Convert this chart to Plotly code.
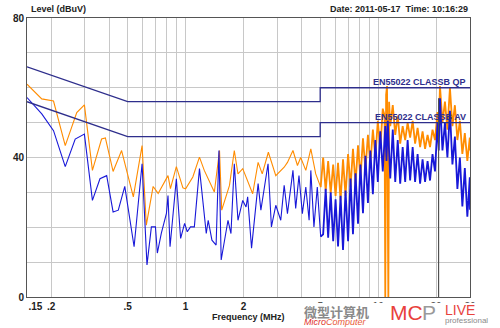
import math
import plotly.graph_objects as go

# ---------------- data ----------------
# Peak (orange) detector, low-frequency part
peak_freq_low = [0.15, 0.179, 0.206, 0.237, 0.272, 0.298, 0.328, 0.366, 0.383, 0.42, 0.465, 0.535,
                 0.594, 0.625, 0.678, 0.72, 0.81, 0.834, 0.895, 0.968, 1.0, 1.09, 1.18, 1.25, 1.41,
                 1.50, 1.54, 1.69, 1.79, 1.87, 1.98, 2.23, 2.38, 2.5, 2.69, 2.94, 3.25, 3.38, 3.61,
                 3.81, 3.96, 4.21, 4.47, 4.74, 5.03]
peak_level_low = [61, 56.8, 56.2, 43.4, 52.9, 55.1, 36.3, 45.3, 45.6, 36, 42, 28.7,
                  43.4, 20.6, 31.7, 29.7, 34.8, 31.1, 37.4, 31.3, 31, 34.4, 40.1, 36.3, 30.1,
                  42, 24.9, 32, 42, 35.3, 36.8, 29.6, 38.6, 35.3, 41.5, 34.8, 37.2, 38.6, 42,
                  37.7, 40, 36.3, 42.5, 35.3, 31.5]
# Peak (orange) detector, dense high-frequency part
peak_freq_hf = [5.03, 5.18, 5.34, 5.50, 5.67, 5.84, 6.01, 6.19, 6.38, 6.57, 6.77, 6.98, 7.19, 7.40,
                7.63, 7.86, 8.09, 8.34, 8.59, 8.85, 9.11, 9.39, 9.67, 9.96, 10.26, 10.57, 10.80,
                10.89, 11.0, 11.12, 11.30, 11.40, 11.56, 11.91, 12.27, 12.64, 13.02, 13.41, 13.82,
                14.23, 14.66, 15.11, 15.56, 16.03, 16.52, 17.01, 17.53, 18.06, 18.60, 19.16, 19.74,
                20.34, 20.64, 20.95, 21.58, 22.23, 22.90, 23.60, 24.31, 25.04, 25.80, 26.58, 27.38,
                28.20, 29.06, 29.93, 30.0]
peak_level_hf = [31.5, 40, 30.5, 39, 29.7, 38, 29, 38.5, 27.7, 39.5, 29, 41, 31.5, 42.5,
                 32.5, 43.5, 34, 45.5, 36.5, 46.5, 38, 48, 40, 50.5, 42.5, 54, 52,
                 0, 58, 60.5, 0, 56, 49, 55, 46.5, 52, 44, 49, 45,
                 50, 45.7, 50.5, 44, 48.5, 43, 47.5, 42.5, 46.5, 43, 48, 45,
                 53, 48, 60.5, 50, 56, 48, 60, 49, 55, 45, 50.5, 41,
                 47, 39, 45.7, 42]

# Average (blue) detector, low-frequency part
avg_freq_low = [0.15, 0.179, 0.206, 0.237, 0.267, 0.298, 0.328, 0.359, 0.389, 0.42, 0.447, 0.483,
                0.54, 0.594, 0.63, 0.664, 0.697, 0.713, 0.748, 0.795, 0.81, 0.83, 0.895, 0.942,
                0.988, 1.02, 1.06, 1.11, 1.18, 1.23, 1.28, 1.31, 1.37, 1.44, 1.49, 1.53, 1.59,
                1.66, 1.72, 1.79, 1.87, 1.98, 2.06, 2.1, 2.2, 2.27, 2.38, 2.46, 2.68, 2.79, 2.94,
                3.12, 3.25, 3.38, 3.61, 3.73, 3.88, 4.04, 4.21, 4.38, 4.47, 4.64, 4.83, 5.03]
avg_level_low = [57.2, 52.5, 47.7, 37.4, 45.3, 46.7, 27.7, 33.9, 34.8, 24.4, 24.9, 31.7,
                 14.4, 38.2, 9.2, 20.1, 20.1, 12.6, 18.3, 24, 29.1, 14.4, 33.9, 16.8,
                 21.1, 18.7, 20.1, 20.1, 36.8, 26.3, 18.2, 22, 16.3, 14.9, 42, 10.6, 16.3,
                 22, 18.2, 38.2, 22, 27.7, 25.8, 28.7, 14, 22, 32.5, 24.9, 38.2, 20.1, 26.3,
                 22, 32, 23.9, 36.3, 25.4, 34.8, 23.9, 31.5, 22, 36.3, 20.1, 31.5, 17.3]
# Average (blue) detector, dense high-frequency part
avg_freq_hf = [5.03, 5.18, 5.34, 5.50, 5.67, 5.84, 6.01, 6.19, 6.38, 6.57, 6.77, 6.98, 7.19, 7.40,
               7.63, 7.86, 8.09, 8.34, 8.59, 8.85, 9.11, 9.39, 9.67, 9.96, 10.26, 10.57, 10.89,
               11.05, 11.22, 11.56, 11.91, 12.27, 12.64, 13.02, 13.41, 13.82, 14.23, 14.66, 15.11,
               15.56, 16.03, 16.52, 17.01, 17.53, 18.06, 18.60, 19.16, 19.74, 20.34, 20.64, 20.95,
               21.58, 22.23, 22.90, 23.60, 24.31, 25.04, 25.80, 26.58, 27.38, 28.20, 29.06, 29.93,
               30.0]
avg_level_hf = [17.3, 18, 31, 17, 30, 16, 28, 14.5, 29, 13.5, 30.5, 16, 34, 18,
                35.5, 21, 38, 24, 40.5, 27, 42, 29.5, 45, 33, 47.5, 36, 49,
                39, 50.5, 34, 48, 33, 45, 32.5, 43, 33, 45, 33.4, 43,
                33, 41, 32.5, 39.5, 33, 39, 33.4, 41, 36, 50, 42, 57,
                42, 50, 40, 53.4, 38, 46, 31, 40, 26, 37, 23, 34.3,
                25]

# EN55022 Class B limits
qp_freq = [0.15, 0.5, 5, 5, 30]
qp_level = [66, 56, 56, 60, 60]
av_freq = [0.15, 0.5, 5, 5, 30]
av_level = [56, 46, 46, 50, 50]

marker_freq = 20.6
marker_range = [0, 57]

x_tick_vals = [0.15, 0.2, 0.5, 1, 2, 5, 10, 20, 30]
x_tick_text = ["\u00a0" * 6 + ".15", ".2", ".5", "1", "2", "5", "10", "20", "30"]
x_minor_vals = [0.3, 0.4, 0.6, 0.7, 0.8, 0.9, 3, 4, 6, 7, 8, 9]
y_tick_vals = [0, 40, 80]
y_minor_vals = [10, 20, 30, 50, 60, 70]

qp_label = "EN55022 CLASSB QP"
av_label = "EN55022 CLASSB AV"

# ---------------- figure ----------------
FONT = "Arial, Liberation Sans, sans-serif"
ORANGE = "#ff8c00"
BLUE = "#1818d8"
NAVY = "#2e2e8c"
GRID = "#c8c8c8"

fig = go.Figure()
fig.add_trace(go.Scatter(x=peak_freq_low, y=peak_level_low, mode="lines",
                         line=dict(color=ORANGE, width=1.1), hoverinfo="skip"))
fig.add_trace(go.Scatter(x=peak_freq_hf, y=peak_level_hf, mode="lines",
                         line=dict(color=ORANGE, width=1.8), hoverinfo="skip"))
fig.add_trace(go.Scatter(x=avg_freq_low, y=avg_level_low, mode="lines",
                         line=dict(color=BLUE, width=1.1), hoverinfo="skip"))
fig.add_trace(go.Scatter(x=avg_freq_hf, y=avg_level_hf, mode="lines",
                         line=dict(color=BLUE, width=1.8), hoverinfo="skip"))
fig.add_trace(go.Scatter(x=qp_freq, y=qp_level, mode="lines",
                         line=dict(color=NAVY, width=1.3), hoverinfo="skip"))
fig.add_trace(go.Scatter(x=av_freq, y=av_level, mode="lines",
                         line=dict(color=NAVY, width=1.3), hoverinfo="skip"))
fig.add_trace(go.Scatter(x=[marker_freq, marker_freq], y=marker_range, mode="lines",
                         line=dict(color="#505050", width=1.2), hoverinfo="skip"))

# limit labels (log axis: annotation x is given in log10 units)
fig.add_annotation(x=math.log10(qp_freq[-1]), y=qp_level[-1], xref="x", yref="y", text=qp_label,
                   showarrow=False, xanchor="right", yanchor="bottom", xshift=-2, yshift=-1,
                   font=dict(family=FONT, size=9, color=NAVY, weight="bold"))
fig.add_annotation(x=math.log10(av_freq[-1]), y=av_level[-1], xref="x", yref="y", text=av_label,
                   showarrow=False, xanchor="right", yanchor="bottom", xshift=-2, yshift=-1,
                   font=dict(family=FONT, size=9, color=NAVY, weight="bold"))

fig.add_annotation(x=0, y=1, xref="paper", yref="paper", text="Level (dBuV)",
                   showarrow=False, xanchor="left", yanchor="bottom", xshift=2, yshift=2,
                   font=dict(family=FONT, size=9, color="#222", weight="bold"))
fig.add_annotation(x=1, y=1, xref="paper", yref="paper",
                   text="Date: 2011-05-17\u00a0\u00a0Time: 10:16:29",
                   showarrow=False, xanchor="right", yanchor="bottom", yshift=2,
                   font=dict(family=FONT, size=9, color="#222", weight="bold"))
fig.add_annotation(x=0.5, y=0, xref="paper", yref="paper", text="Frequency (MHz)",
                   showarrow=False, xanchor="center", yanchor="top", yshift=-13,
                   font=dict(family=FONT, size=9, color="#222", weight="bold"))

# watermark (covers part of the tick labels, as in the reference)
fig.add_shape(type="rect", xref="paper", yref="paper", x0=0.62, x1=1.1, y0=-0.021, y1=-0.12,
              fillcolor="white", line=dict(width=0), layer="above")
fig.add_annotation(x=0.62, y=-0.012, xref="paper", yref="paper", text="微型计算机",
                   showarrow=False, xanchor="left", yanchor="top",
                   font=dict(family="Noto Sans CJK SC", size=13, color="#8a8a8a", weight="bold"))
fig.add_annotation(x=0.62, y=-0.066, xref="paper", yref="paper",
                   text="<span style='color:#e0302a'>Micro</span>Computer",
                   showarrow=False, xanchor="left", yanchor="top",
                   font=dict(family=FONT, size=9, color="#e85a3a", style="italic"))
fig.add_annotation(x=0.816, y=-0.104, xref="paper", yref="paper", text="MC",
                   showarrow=False, xanchor="left", yanchor="bottom",
                   font=dict(family=FONT, size=21, color="#e8423c"))
fig.add_annotation(x=0.888, y=-0.104, xref="paper", yref="paper", text="P",
                   showarrow=False, xanchor="left", yanchor="bottom",
                   font=dict(family=FONT, size=21, color="#9a9a9a"))
fig.add_annotation(x=0.94, y=-0.012, xref="paper", yref="paper", text="LIVE",
                   showarrow=False, xanchor="left", yanchor="top",
                   font=dict(family=FONT, size=14, color="#e8423c"))
fig.add_annotation(x=0.94, y=-0.062, xref="paper", yref="paper", text="professional",
                   showarrow=False, xanchor="left", yanchor="top",
                   font=dict(family=FONT, size=8, color="#8a8a8a"))

fig.update_layout(
    width=500, height=328,
    margin=dict(l=25, r=30, t=17, b=31),
    paper_bgcolor="white", plot_bgcolor="white",
    showlegend=False,
    font=dict(family=FONT, size=10, color="#222"),
    xaxis=dict(type="log", range=[math.log10(0.15), math.log10(30)],
               tickmode="array", tickvals=x_tick_vals, ticktext=x_tick_text,
               showgrid=True, gridcolor=GRID, gridwidth=1,
               minor=dict(tickmode="array", tickvals=x_minor_vals, showgrid=True,
                          gridcolor=GRID, gridwidth=1, ticks=""),
               ticks="", showline=True, linecolor="#555", linewidth=1, mirror=True,
               tickfont=dict(family=FONT, size=10, color="#222", weight="bold"),
               zeroline=False, fixedrange=True),
    yaxis=dict(range=[0, 80], tickmode="array", tickvals=y_tick_vals,
               showgrid=True, gridcolor=GRID, gridwidth=1,
               minor=dict(tickmode="array", tickvals=y_minor_vals, showgrid=True,
                          gridcolor=GRID, gridwidth=1, ticks=""),
               ticks="", showline=True, linecolor="#555", linewidth=1, mirror=True,
               tickfont=dict(family=FONT, size=10, color="#222", weight="bold"),
               zeroline=False, fixedrange=True),
)

fig.write_html("out.html")
